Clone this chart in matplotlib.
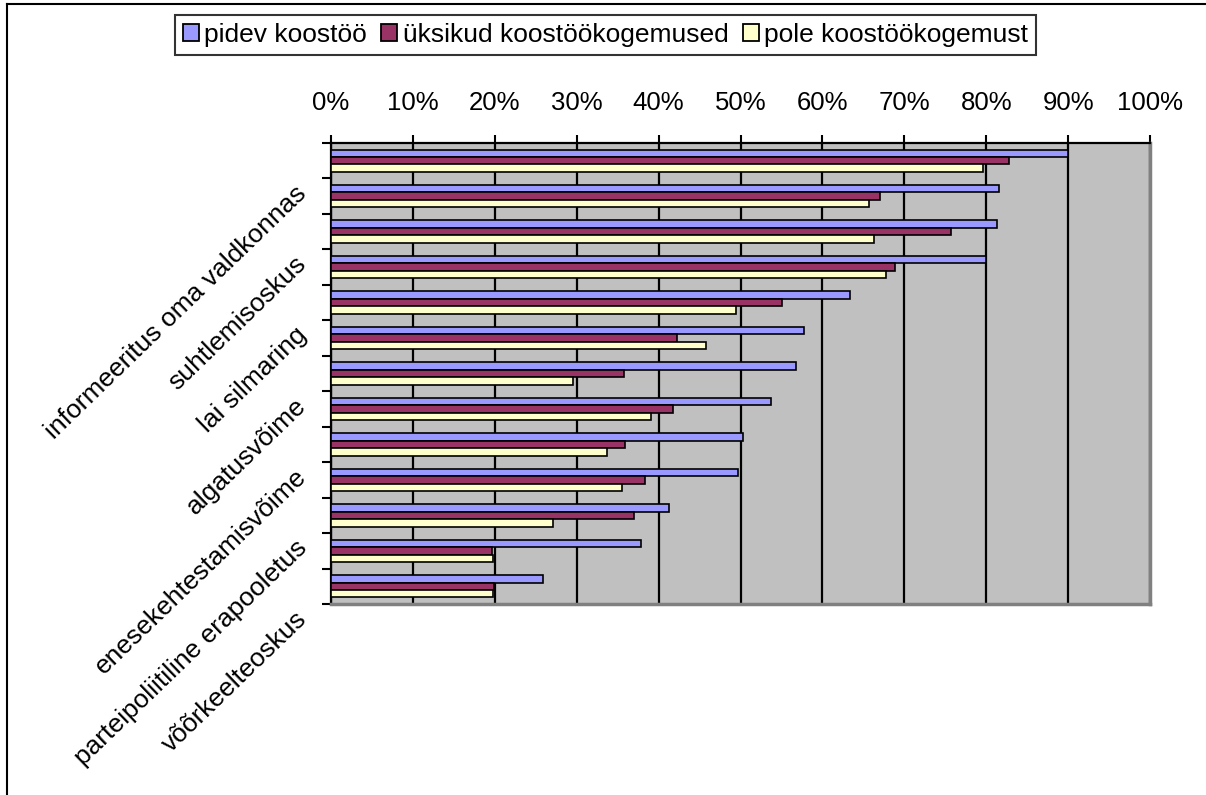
import numpy as np
import matplotlib
matplotlib.use("Agg")
import matplotlib.pyplot as plt
from matplotlib.lines import Line2D
from matplotlib.patches import Patch
from matplotlib.transforms import ScaledTranslation

plt.rcParams["font.family"] = ["Liberation Sans", "DejaVu Sans"]

# %% data
series_names = ["pidev koostöö", "üksikud koostöökogemused", "pole koostöökogemust"]
# 13 categories on the chart, only every other one carries a visible label
shown_labels = [
    "informeeritus oma valdkonnas",
    "suhtlemisoskus",
    "lai silmaring",
    "algatusvõime",
    "enesekehtestamisvõime",
    "parteipoliitiline erapooletus",
    "võõrkeelteoskus",
]
pidev = [90.0, 81.6, 81.3, 80.0, 63.4, 57.8, 56.8, 53.7, 50.3, 49.7, 41.3, 37.9, 25.9]
uksikud = [82.8, 67.0, 75.7, 68.9, 55.1, 42.2, 35.8, 41.8, 35.9, 38.3, 37.0, 19.6, 19.9]
pole = [79.6, 65.7, 66.3, 67.8, 49.4, 45.8, 29.5, 39.1, 33.7, 35.5, 27.1, 19.8, 19.8]
x_ticks = [0, 10, 20, 30, 40, 50, 60, 70, 80, 90, 100]

colors = ["#9999FF", "#993366", "#FFFFCC"]

# %% figure
W, H = 1206, 795
fig = plt.figure(figsize=(W / 100, H / 100), dpi=100)
ax = fig.add_axes([331 / W, 1 - 604 / H, (1150 - 331) / W, (604 - 143) / H])
ax.set_facecolor("#C0C0C0")

n = len(pidev)
y = np.arange(n)
bh = 0.21
for k, (vals, c) in enumerate(zip([pidev, uksikud, pole], colors)):
    ax.barh(y + (k - 1) * bh, vals, height=bh, color=c, edgecolor="black",
            linewidth=1.2, zorder=3)

ax.set_xlim(0, 100)
ax.set_ylim(n - 0.5, -0.5)

# x axis on top
ax.xaxis.tick_top()
ax.set_xticks(x_ticks)
ax.set_xticklabels(["{}%".format(v) for v in x_ticks], fontsize=18.5)
ax.tick_params(axis="x", direction="out", length=6, width=1.5, pad=14)
ax.grid(axis="x", color="black", linewidth=1.6, zorder=1)
ax.set_axisbelow(True)

# y axis: ticks between categories, labels drawn separately
ax.set_yticks([])
ax.set_yticks(np.arange(n + 1) - 0.5, minor=True)
ax.tick_params(axis="y", which="minor", direction="out", length=6.5, width=1.5)

for s in ["top", "left"]:
    ax.spines[s].set_color("black")
    ax.spines[s].set_linewidth(1.6)
for s in ["right", "bottom"]:
    ax.spines[s].set_color("#808080")
    ax.spines[s].set_linewidth(2.5)

off = ScaledTranslation(-0.28, -0.29, fig.dpi_scale_trans)
for j, lab in enumerate(shown_labels):
    ax.text(0, 2 * j, lab, transform=ax.get_yaxis_transform() + off,
            rotation=44, ha="right", va="center", rotation_mode="anchor",
            fontsize=19)

# legend
handles = [Patch(facecolor=c, edgecolor="black", linewidth=1.3) for c in colors]
leg = fig.legend(handles, series_names, loc="center", bbox_to_anchor=(605.5 / W, 1 - 35 / H),
                 ncol=3, frameon=True, fancybox=False, edgecolor="black",
                 fontsize=19, handlelength=0.6, handleheight=0.6,
                 handletextpad=0.2, columnspacing=0.55, borderpad=0.3)
leg.get_frame().set_linewidth(1.5)

# outer chart border (top and left visible)
fig.add_artist(Line2D([7 / W, 7 / W], [0, 1 - 4 / H], transform=fig.transFigure,
                      color="black", linewidth=1.5))
fig.add_artist(Line2D([7 / W, 1], [1 - 4 / H, 1 - 4 / H], transform=fig.transFigure,
                      color="black", linewidth=1.5))

fig.savefig("out.png", dpi=100)
